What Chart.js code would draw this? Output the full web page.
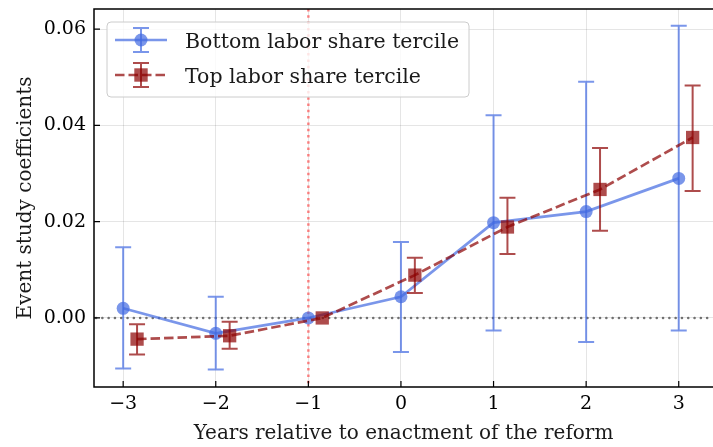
<!DOCTYPE html>
<html>
<head>
    <title>Event study</title>
    <script src="https://cdn.jsdelivr.net/npm/chart.js"></script>
    <style>
        html, body { margin: 0; padding: 0; overflow: hidden; background: #fff; }
        canvas { display: block; }
    </style>
</head>
<body>
    <canvas id="myChart" width="713" height="447"></canvas>
    <script>
        // Data
        const years = [-3, -2, -1, 0, 1, 2, 3];
        const bottomCoef = [0.0020, -0.0032, 0.0000, 0.0044, 0.0198, 0.0221, 0.0290];
        const bottomLow = [-0.0105, -0.0107, 0.0000, -0.0071, -0.0026, -0.0050, -0.0026];
        const bottomHigh = [0.0147, 0.0044, 0.0000, 0.0158, 0.0421, 0.0491, 0.0607];
        const topCoef = [-0.0044, -0.0037, 0.0000, 0.0089, 0.0189, 0.0267, 0.0375];
        const topLow = [-0.0076, -0.0064, 0.0000, 0.0052, 0.0133, 0.0181, 0.0264];
        const topHigh = [-0.0013, -0.0008, 0.0000, 0.0125, 0.0250, 0.0353, 0.0483];
        const xTicks = [-3, -2, -1, 0, 1, 2, 3];
        const yTicks = [0.00, 0.02, 0.04, 0.06];
        const reformYear = -1;
        const seriesNames = ['Bottom labor share tercile', 'Top labor share tercile'];

        const BLUE = 'rgba(65, 105, 225, 0.7)';
        const RED = 'rgba(139, 0, 0, 0.7)';
        const FONT = "'DejaVu Serif', serif";
        const dodge = 0.15;

        // error bars, drawn just before each dataset
        const errorBars = {
            id: 'errorBars',
            beforeDatasetDraw(chart, args) {
                const ds = chart.data.datasets[args.index];
                const {ctx, scales: {x, y}} = chart;
                ctx.save();
                ctx.strokeStyle = ds.borderColor;
                ctx.lineWidth = 2;
                ctx.beginPath();
                ds.errLow.forEach((lo, i) => {
                    const hi = ds.errHigh[i];
                    if (hi - lo < 1e-9) return;
                    const px = x.getPixelForValue(ds.data[i].x);
                    const pLo = y.getPixelForValue(lo);
                    const pHi = y.getPixelForValue(hi);
                    ctx.moveTo(px, pLo); ctx.lineTo(px, pHi);
                    ctx.moveTo(px - 8, pLo); ctx.lineTo(px + 8, pLo);
                    ctx.moveTo(px - 8, pHi); ctx.lineTo(px + 8, pHi);
                });
                ctx.stroke();
                ctx.restore();
            }
        };

        // reference lines, spines, inward ticks, legend box
        const decorations = {
            id: 'decorations',
            beforeDatasetsDraw(chart) {
                const {ctx, chartArea: a, scales: {x, y}} = chart;
                ctx.save();
                ctx.lineWidth = 2.5;
                ctx.setLineDash([2.5, 3.8]);
                ctx.strokeStyle = 'rgba(255, 40, 40, 0.55)';
                const rx = x.getPixelForValue(reformYear);
                ctx.beginPath(); ctx.moveTo(rx, a.top); ctx.lineTo(rx, a.bottom); ctx.stroke();
                ctx.lineWidth = 2.5;
                ctx.lineCap = 'round';
                ctx.setLineDash([0.1, 6.2]);
                ctx.strokeStyle = 'rgba(80, 80, 80, 0.8)';
                const zy = y.getPixelForValue(0);
                ctx.beginPath(); ctx.moveTo(a.left + 2, zy); ctx.lineTo(a.right, zy); ctx.stroke();
                ctx.restore();
            },
            afterDraw(chart) {
                const {ctx, chartArea: a, scales: {x, y}} = chart;
                ctx.save();
                ctx.strokeStyle = '#000';
                ctx.lineWidth = 1.5;
                ctx.beginPath();
                ctx.moveTo(a.left, a.top); ctx.lineTo(a.left, a.bottom);
                ctx.moveTo(a.left - 0.75, a.bottom); ctx.lineTo(a.right, a.bottom);
                ctx.moveTo(a.left - 0.75, a.top); ctx.lineTo(a.right, a.top);
                ctx.stroke();
                ctx.lineWidth = 1.2;
                ctx.beginPath();
                xTicks.forEach(v => {
                    const px = x.getPixelForValue(v);
                    ctx.moveTo(px, a.bottom); ctx.lineTo(px, a.bottom - 6);
                });
                yTicks.forEach(v => {
                    const py = y.getPixelForValue(v);
                    ctx.moveTo(a.left, py); ctx.lineTo(a.left + 6, py);
                });
                ctx.stroke();

                // legend
                ctx.fillStyle = 'rgba(255, 255, 255, 0.8)';
                ctx.strokeStyle = '#cccccc';
                ctx.lineWidth = 1;
                ctx.beginPath();
                ctx.roundRect(107, 22, 362, 75, 4);
                ctx.fill();
                ctx.stroke();

                const rows = [
                    {color: BLUE, dash: [], y: 40, shape: 'circle'},
                    {color: RED, dash: [9.5, 4], y: 75, shape: 'rect'}
                ];
                rows.forEach((r, i) => {
                    ctx.strokeStyle = r.color;
                    ctx.fillStyle = r.color;
                    ctx.lineWidth = 2.7;
                    ctx.setLineDash(r.dash);
                    ctx.beginPath(); ctx.moveTo(115, r.y); ctx.lineTo(167, r.y); ctx.stroke();
                    ctx.setLineDash([]);
                    ctx.lineWidth = 2;
                    ctx.beginPath();
                    ctx.moveTo(141, r.y - 12); ctx.lineTo(141, r.y + 12);
                    ctx.moveTo(133, r.y - 12); ctx.lineTo(149, r.y - 12);
                    ctx.moveTo(133, r.y + 12); ctx.lineTo(149, r.y + 12);
                    ctx.stroke();
                    ctx.beginPath();
                    if (r.shape === 'circle') ctx.arc(141, r.y, 6.5, 0, Math.PI * 2);
                    else ctx.rect(141 - 6.7, r.y - 6.7, 13.4, 13.4);
                    ctx.fill();
                    ctx.fillStyle = '#1a1a1a';
                    ctx.font = '20.5px ' + FONT;
                    ctx.textBaseline = 'alphabetic';
                    ctx.fillText(seriesNames[i], 185, r.y + 8);
                });
                ctx.restore();
            }
        };

        const ctx = document.getElementById('myChart').getContext('2d');
        new Chart(ctx, {
            type: 'line',
            data: {
                datasets: [{
                    label: seriesNames[0],
                    data: years.map((yr, i) => ({x: yr, y: bottomCoef[i]})),
                    errLow: bottomLow,
                    errHigh: bottomHigh,
                    borderColor: BLUE,
                    backgroundColor: BLUE,
                    borderWidth: 2.7,
                    pointStyle: 'circle',
                    pointRadius: 6.5,
                    pointBorderWidth: 0,
                    pointBackgroundColor: BLUE,
                    tension: 0,
                    order: 2
                }, {
                    label: seriesNames[1],
                    data: years.map((yr, i) => ({x: yr + dodge, y: topCoef[i]})),
                    errLow: topLow,
                    errHigh: topHigh,
                    borderColor: RED,
                    backgroundColor: RED,
                    borderWidth: 2.7,
                    borderDash: [9.5, 4],
                    pointStyle: 'rect',
                    pointRadius: 9.4,
                    pointBorderWidth: 0,
                    pointBackgroundColor: RED,
                    tension: 0,
                    order: 1
                }]
            },
            options: {
                responsive: false,
                animation: false,
                devicePixelRatio: 1,
                layout: { autoPadding: false, padding: { top: 9, right: 0, left: 0, bottom: 0 } },
                plugins: {
                    legend: { display: false },
                    tooltip: { enabled: false }
                },
                scales: {
                    x: {
                        type: 'linear',
                        min: -3.315,
                        max: 3.37,
                        afterBuildTicks: s => { s.ticks = xTicks.map(v => ({value: v})); },
                        afterFit: s => { s.height = 60; s.paddingLeft = 0; s.paddingRight = 0; },
                        grid: { color: 'rgba(0, 0, 0, 0.1)', drawTicks: false },
                        border: { display: false },
                        ticks: {
                            color: '#000',
                            padding: 6,
                            font: { family: FONT, size: 19 },
                            callback: v => (v < 0 ? '\u2212' + Math.abs(v) : String(v))
                        },
                        title: {
                            display: true,
                            text: 'Years relative to enactment of the reform',
                            color: '#1a1a1a',
                            font: { family: FONT, size: 20 },
                            padding: { top: 0, bottom: 1 }
                        }
                    },
                    y: {
                        type: 'linear',
                        min: -0.01435,
                        max: 0.0642,
                        afterBuildTicks: s => { s.ticks = yTicks.map(v => ({value: v})); },
                        afterFit: s => { s.width = 94; s.paddingTop = 0; s.paddingBottom = 0; },
                        grid: { color: 'rgba(0, 0, 0, 0.1)', drawTicks: false },
                        border: { display: false },
                        ticks: {
                            color: '#000',
                            padding: 8,
                            font: { family: FONT, size: 19 },
                            callback: v => v.toFixed(2)
                        },
                        title: {
                            display: true,
                            text: 'Event study coefficients',
                            color: '#1a1a1a',
                            font: { family: FONT, size: 20 },
                            padding: { top: 14, bottom: 0 }
                        }
                    }
                }
            },
            plugins: [errorBars, decorations]
        });
    </script>
</body>
</html>
